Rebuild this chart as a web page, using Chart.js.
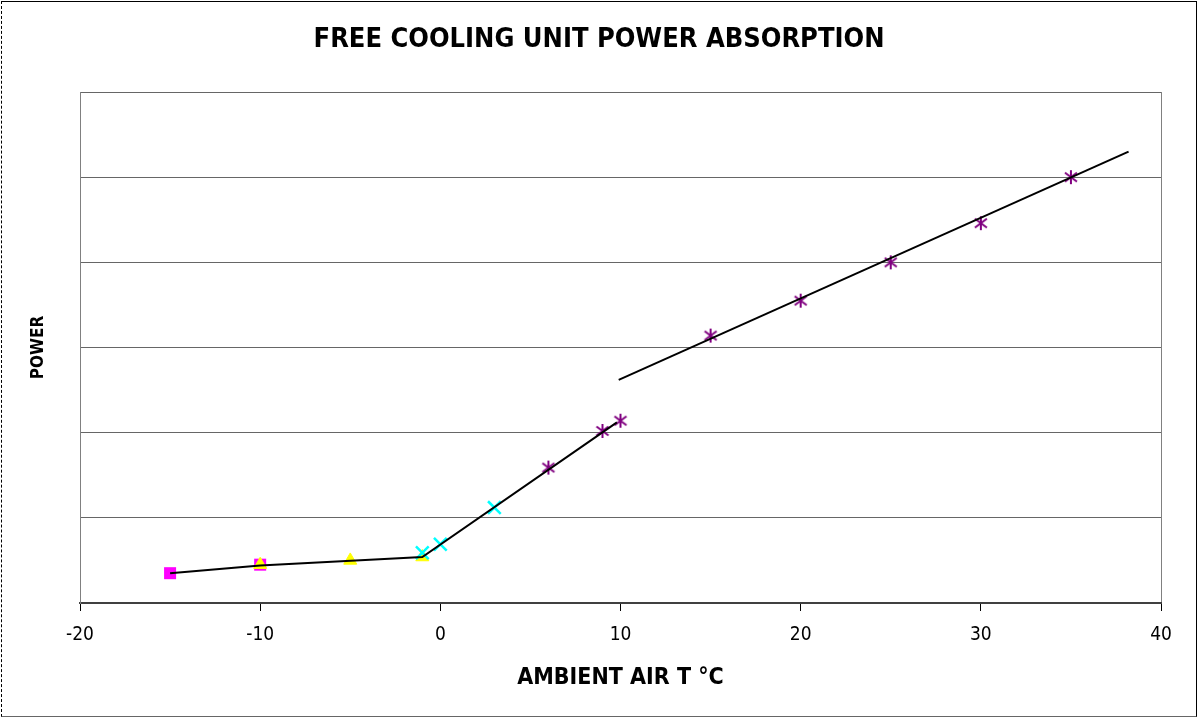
<!DOCTYPE html>
<html>
<head>
<meta charset="utf-8">
<script src="https://cdn.jsdelivr.net/npm/chart.js@4"></script>
<style>
  html, body { margin: 0; padding: 0; background: #fff; }
  #wrap { position: relative; width: 1198px; height: 718px; }
  #frame { position: absolute; left: 1px; top: 1px; width: 1194px; height: 714px;
           border: 1px solid #000; border-left: 1px dashed #000; border-bottom-color: #666; pointer-events: none; }
</style>
</head>
<body>
<div id="wrap">
  <canvas id="c" width="1198" height="718"></canvas>
  <div id="frame"></div>
</div>
<script>
// ---- data ----
const titleText = 'FREE COOLING UNIT POWER ABSORPTION';
const xTitle = 'AMBIENT AIR T °C';
const yTitle = 'POWER';
const xTicks = [-20, -10, 0, 10, 20, 30, 40];

const squareX = [-15, -10];
const squareY = [0.35, 0.45];
const triangleX = [-10, -5, -1];
const triangleY = [0.45, 0.50, 0.54];
const crossX = [-1, 0, 3];
const crossY = [0.59, 0.69, 1.12];
const starX = [6, 9, 10, 15, 20, 25, 30, 35];
const starY = [1.59, 2.02, 2.14, 3.14, 3.55, 4.00, 4.46, 5.00];
const line1X = [-15, -10, -1, 9.8];
const line1Y = [0.35, 0.44, 0.54, 2.12];
const line2X = [9.9, 38.2];
const line2Y = [2.62, 5.30];

const pts = (xs, ys) => xs.map((x, i) => ({ x: x, y: ys[i] }));

// asterisk marker (vertical bar + X)
function makeAsterisk(color) {
  const s = 16, c = document.createElement('canvas');
  c.width = s; c.height = s;
  const g = c.getContext('2d');
  g.strokeStyle = color; g.lineWidth = 2;
  g.beginPath();
  g.moveTo(8, 1); g.lineTo(8, 15);
  g.moveTo(2, 3.5); g.lineTo(14, 12.5);
  g.moveTo(14, 3.5); g.lineTo(2, 12.5);
  g.stroke();
  return c;
}
const asterisk = makeAsterisk('#800080');

const fontFam = "'DejaVu Sans Condensed', 'Liberation Sans Narrow', 'DejaVu Sans', sans-serif";

new Chart(document.getElementById('c'), {
  type: 'scatter',
  data: {
    datasets: [
      { data: pts(line1X, line1Y), showLine: true, borderColor: '#000', borderWidth: 2, pointRadius: 0, fill: false, tension: 0 },
      { data: pts(line2X, line2Y), showLine: true, borderColor: '#000', borderWidth: 2, pointRadius: 0, fill: false, tension: 0 },
      { data: pts(crossX, crossY), pointStyle: 'crossRot', pointRadius: 9, borderColor: '#00FFFF', backgroundColor: '#00FFFF', borderWidth: 2.5 },
      { data: pts(triangleX, triangleY), pointStyle: 'triangle', pointRadius: 7.5, backgroundColor: '#FFFF00', borderColor: '#FFFF00', borderWidth: 1 },
      { data: pts(squareX, squareY), pointStyle: 'rect', pointRadius: 8.5, backgroundColor: '#FF00FF', borderColor: '#FF00FF', borderWidth: 0 },
      { data: pts(starX, starY), pointStyle: asterisk, pointRadius: 8, borderColor: '#800080', backgroundColor: '#800080' }
    ]
  },
  options: {
    responsive: false,
    animation: false,
    layout: { padding: { left: 37, right: 37, top: 0, bottom: 0 } },
    plugins: {
      legend: { display: false },
      tooltip: { enabled: false },
      title: {
        display: true, text: titleText, color: '#000',
        font: { family: fontFam, size: 27, weight: 'bold', lineHeight: 1.2 },
        padding: { top: 24, bottom: 35.6 }
      }
    },
    scales: {
      x: {
        type: 'linear', min: -20, max: 40,
        afterBuildTicks: (s) => { s.ticks = xTicks.map(v => ({ value: v })); },
        afterFit: (s) => { s.height = 115; },
        ticks: { color: '#000', font: { family: fontFam, size: 19 }, padding: 13, maxRotation: 0 },
        grid: {
          color: (ctx) => (ctx.tick && (ctx.tick.value === 40)) ? '#808080' : 'rgba(0,0,0,0)',
          tickColor: '#000', tickLength: 8, lineWidth: 1, drawOnChartArea: true
        },
        border: { display: true, color: '#404040', width: 2 },
        title: { display: true, text: xTitle, color: '#000', font: { family: fontFam, size: 23, weight: 'bold', lineHeight: 1.2 }, padding: { top: 0, bottom: 26 } }
      },
      y: {
        type: 'linear', min: 0, max: 6,
        ticks: { display: false, stepSize: 1 },
        afterFit: (s) => { s.width = 43; },
        grid: { color: '#666', lineWidth: 1, drawTicks: false },
        border: { display: true, color: '#808080', width: 1 },
        title: { display: true, text: yTitle, color: '#000', font: { family: fontFam, size: 17, weight: 'bold', lineHeight: 1.2 }, padding: { top: -9, bottom: 0 } }
      }
    }
  }
});
</script>
</body>
</html>
